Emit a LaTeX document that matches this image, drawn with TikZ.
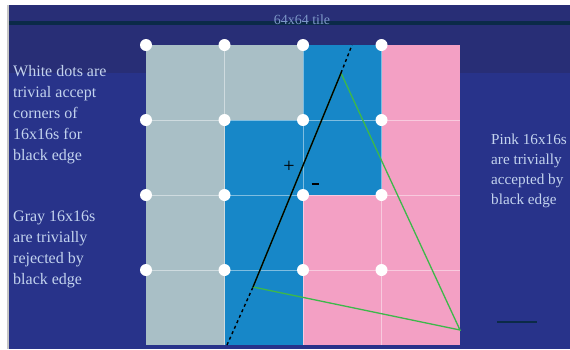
\documentclass[tikz,border=0pt]{standalone}
\usepackage{fontspec}
\setmainfont{Liberation Serif}
\usetikzlibrary{positioning,calc}

\definecolor{slidebg}{HTML}{28338A}
\definecolor{slidetop}{HTML}{282E76}
\definecolor{rulecol}{HTML}{0B2A48}
\definecolor{tilegray}{HTML}{A9BFC6}
\definecolor{tileblue}{HTML}{1787C8}
\definecolor{tilepink}{HTML}{F3A0C4}
\definecolor{notecol}{HTML}{C3D3EE}
\definecolor{titlecol}{HTML}{7D98C8}
\definecolor{edgegreen}{HTML}{3DB84A}

\begin{document}
\begin{tikzpicture}[
    x=1pt, y=-1pt,
    note/.style={text=notecol, align=left, anchor=north west, inner sep=0pt,
        font=\fontsize{16}{21}\selectfont},
    corner/.style={circle, fill=white, inner sep=0pt, minimum size=12pt},
    gridline/.style={white, opacity=0.45, line width=0.6pt},
    blackedge/.style={black, line width=1.4pt},
    greenedge/.style={edgegreen, line width=1.3pt}
]
    \useasboundingbox (0,0) rectangle (570,349);
    \clip (0,0) rectangle (570,349);

    % --- slide background ---
    \fill[white] (0,0) rectangle (570,349);
    \fill[gray!45] (7,5) rectangle (570,349);
    \fill[slidebg] (9,5) rectangle (570,349);
    \fill[slidetop] (9,5) rectangle (570,73);
    \fill[rulecol] (9,21) rectangle (570,25);
    \node[text=titlecol, font=\fontsize{14}{16}\selectfont, inner sep=1pt] (title) at (302,20) {64x64 tile};

    % --- 16x16 blocks (column/row/colour) ---
    \foreach \c/\r/\col in {0/0/tilegray, 1/0/tilegray, 2/0/tileblue, 3/0/tilepink,
                            0/1/tilegray, 1/1/tileblue, 2/1/tileblue, 3/1/tilepink,
                            0/2/tilegray, 1/2/tileblue, 2/2/tilepink, 3/2/tilepink,
                            0/3/tilegray, 1/3/tileblue, 2/3/tilepink, 3/3/tilepink}
        \fill[\col] ({146+78.5*\c},{45+75*\r}) rectangle ({146+78.5*(\c+1)},{45+75*(\r+1)});

    % thin grid lines
    \foreach \i in {1,2,3} {
        \draw[gridline] ({146+78.5*\i},45) -- ({146+78.5*\i},345);
        \draw[gridline] (146,{45+75*\i}) -- (460,{45+75*\i});
    }

    % --- white corner dots ---
    \foreach \c in {0,1,2,3}
        \foreach \r in {0,1,2,3}
            \node[corner] (d\c\r) at ({146+78.5*\c},{45+75*\r}) {};

    % --- triangle ---
    \coordinate (v1) at (253,287);
    \coordinate (v2) at (341,73);
    \coordinate (v3) at (460,330);
    \coordinate (e0) at (227,345);
    \coordinate (e1) at (352,45);
    \draw[greenedge] (v1) -- (v2) -- (v3) -- cycle;
    \draw[blackedge] (v1) -- (v2);
    \draw[blackedge, dashed] (e0) -- (v1);
    \draw[blackedge, dashed] (v2) -- (e1);
    \node[font=\fontsize{20}{20}\selectfont, inner sep=0pt] (plus) at (289,167) {+};
    \node[inner sep=0pt] (minus) at (315,184) {\rule{7pt}{1.5pt}};

    % --- notes ---
    \node[note] (white) at (13,65) {White dots are\\trivial accept\\corners of\\16x16s for\\black edge};
    \node[note] (gray) at (13,211) {Gray 16x16s\\are trivially\\rejected by\\black edge};
    \node[note, font=\fontsize{15.2}{20}\selectfont] (pink) at (491,134) {Pink 16x16s\\are trivially\\accepted by\\black edge};

    \coordinate (m0) at (497,322);
    \coordinate (m1) at (537,322);
    \draw[rulecol, line width=1.2pt] (m0) -- (m1);
\end{tikzpicture}
\end{document}
